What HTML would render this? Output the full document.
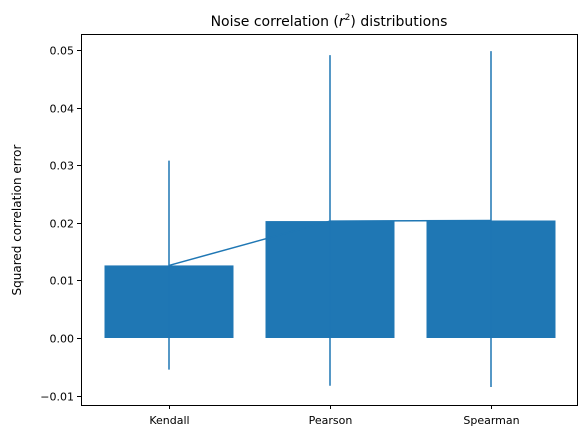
<!DOCTYPE html>
<html><head><meta charset="utf-8"><style>
body{margin:0;background:#fff;}
svg{display:block;font-family:"DejaVu Sans","Liberation Sans",sans-serif;}
</style></head><body>
<svg id="chart" width="587" height="439" viewBox="0 0 587 439">
<rect width="587" height="439" fill="#fff"/>
<text x="329" y="26" text-anchor="middle" font-size="14">Noise correlation (<tspan font-style="italic">r</tspan><tspan font-size="9" dy="-6">2</tspan><tspan dy="6">) distributions</tspan></text>
<g id="marks"></g>
<rect x="81.5" y="34.5" width="496" height="371" fill="none" stroke="#000" stroke-width="1"/>
<g id="axes"></g>
<text transform="translate(21,220) rotate(-90)" text-anchor="middle" font-size="12">Squared correlation error</text>
</svg>
<script>
const categories=["Kendall","Pearson","Spearman"];
const means=[0.0126,0.0203,0.0204];
const errLow=[-0.0055,-0.0083,-0.0085];
const errHigh=[0.0308,0.0491,0.0498];
const yTicks=[-0.01,0,0.01,0.02,0.03,0.04,0.05];
const yTickLabels=["\u22120.01","0.00","0.01","0.02","0.03","0.04","0.05"];
const NS="http://www.w3.org/2000/svg";
const y=v=>338-v*5760;
const x=i=>169+i*161;
const bw=129;
const marks=document.getElementById('marks');
const axes=document.getElementById('axes');
function mk(t,a,p){const e=document.createElementNS(NS,t);for(const k in a)e.setAttribute(k,a[k]);p.appendChild(e);return e;}
categories.forEach((c,i)=>{
  const r=mk('rect',{x:x(i)-bw/2,y:Math.min(y(means[i]),y(0)),width:bw,height:Math.abs(y(0)-y(means[i])),fill:'#1f77b4'},marks);
  
  
});
categories.forEach((c,i)=>{
  const l=mk('line',{x1:x(i),x2:x(i),y1:y(errLow[i]),y2:y(errHigh[i]),stroke:'#1f77b4','stroke-width':1.5},marks);
  
  
});
const pl=mk('polyline',{points:means.map((m,i)=>x(i)+','+y(m)).join(' '),fill:'none',stroke:'#1f77b4','stroke-width':1.5},marks);


yTicks.forEach((t,i)=>{
  const yy=Math.round(y(t))+0.5;
  const tk=mk('line',{x1:77,x2:81,y1:yy,y2:yy,stroke:'#000'},axes);
  
  
  const tx=mk('text',{x:74,y:yy+4,'text-anchor':'end','font-size':11},axes);
  tx.textContent=yTickLabels[i];
  
  
});
categories.forEach((c,i)=>{
  const xx=Math.round(x(i))+0.5;
  const tk=mk('line',{x1:xx,x2:xx,y1:405,y2:409,stroke:'#000'},axes);
  
  
  const tx=mk('text',{x:xx,y:424,'text-anchor':'middle','font-size':11},axes);
  tx.textContent=c;
  
  
});
</script>
</body></html>
